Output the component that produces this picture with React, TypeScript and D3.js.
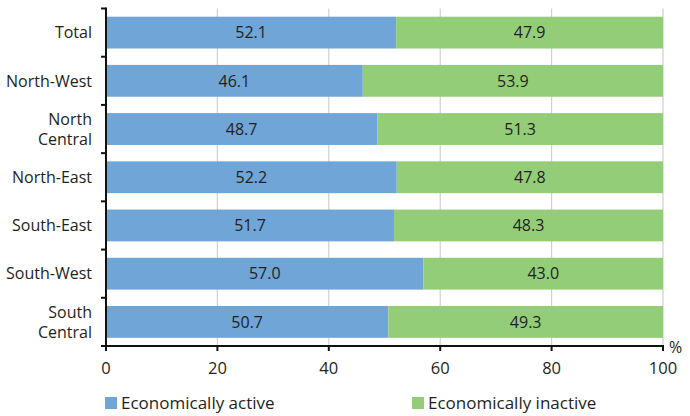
import React from "react";
import * as d3 from "d3";

const categories = ["Total", "North-West", "North Central", "North-East", "South-East", "South-West", "South Central"];
const activeValues = [52.1, 46.1, 48.7, 52.2, 51.7, 57.0, 50.7];
const inactiveValues = [47.9, 53.9, 51.3, 47.8, 48.3, 43.0, 49.3];
const xTicks = [0, 20, 40, 60, 80, 100];
const seriesNames = ["Economically active", "Economically inactive"];
const colors = ["#6fa5d7", "#93cd77"];

const W = 690, H = 416;
const left = 106, right = 663, top = 8.5, bottom = 346;
const font = "'Open Sans', sans-serif";
const textColor = "#231f20";

export default function App() {
  const x = d3.scaleLinear().domain([0, 100]).range([left, right]);
  const y = d3.scaleBand().domain(categories).range([top, bottom]).paddingInner(0.34).paddingOuter(0.17);
  const band = d3.scaleBand().domain(categories).range([top, bottom]);
  return (
    <svg width={W} height={H} style={{ position: "absolute", left: 0, top: 0 }}>
      {xTicks.slice(1).map((t) => (
        <line key={t} x1={x(t)} x2={x(t)} y1={top} y2={bottom} stroke="#cfcfcf" strokeWidth={1.2} />
      ))}
      {categories.map((c, i) => (
        <g key={c}>
          <rect x={x(0)} y={y(c)} width={x(activeValues[i]) - x(0)} height={y.bandwidth()} fill={colors[0]} />
          <rect x={x(activeValues[i])} y={y(c)} width={x(activeValues[i] + inactiveValues[i]) - x(activeValues[i])} height={y.bandwidth()} fill={colors[1]} />
          <text x={x(activeValues[i] / 2)} y={y(c)! + y.bandwidth() / 2} dy="0.36em" textAnchor="middle" fontFamily={font} fontSize={16} fill={textColor}>
            {activeValues[i].toFixed(1)}
          </text>
          <text x={x(activeValues[i] + inactiveValues[i] / 2)} y={y(c)! + y.bandwidth() / 2} dy="0.36em" textAnchor="middle" fontFamily={font} fontSize={16} fill={textColor}>
            {inactiveValues[i].toFixed(1)}
          </text>
          {(() => {
            const words = c === "North Central" || c === "South Central" ? c.split(" ") : [c];
            const cy = band(c)! + band.bandwidth() / 2;
            return words.map((w, k) => (
              <text key={k} x={92} y={cy + (k - (words.length - 1) / 2) * 20} dy="0.36em" textAnchor="end" fontFamily={font} fontSize={16} fill={textColor}>
                {w}
              </text>
            ));
          })()}
        </g>
      ))}
      {/* y axis */}
      <line x1={left} x2={left} y1={top - 1} y2={bottom} stroke="#111" strokeWidth={2} />
      {d3.range(categories.length + 1).map((i) => {
        const yy = top + i * band.bandwidth();
        return <line key={i} x1={left - 5} x2={left} y1={yy} y2={yy} stroke="#111" strokeWidth={2} />;
      })}
      {/* x axis */}
      <line x1={left - 1} x2={right + 1} y1={bottom} y2={bottom} stroke="#111" strokeWidth={2} />
      {xTicks.map((t) => (
        <g key={t}>
          <line x1={x(t)} x2={x(t)} y1={bottom} y2={bottom + 5} stroke="#111" strokeWidth={2} />
          <text x={x(t)} y={bottom + 22} dy="0.36em" textAnchor="middle" fontFamily={font} fontSize={16.5} fill={textColor}>
            {t}
          </text>
        </g>
      ))}
      <text x={669} y={bottom + 1} dy="0.36em" textAnchor="start" fontFamily={font} fontSize={16} fill={textColor}>%</text>
      {/* legend */}
      {seriesNames.map((s, i) => {
        const lx = i === 0 ? 105 : 412;
        return (
          <g key={s}>
            <rect x={lx} y={397} width={12} height={12} fill={colors[i]} />
            <text x={lx + 16} y={403} dy="0.36em" fontFamily={font} fontSize={17} fill={textColor}>{s}</text>
          </g>
        );
      })}
    </svg>
  );
}
